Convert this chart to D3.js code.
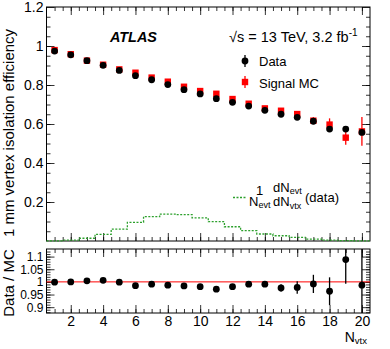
<!DOCTYPE html>
<html>
<head>
<meta charset="utf-8">
<script src="https://cdn.jsdelivr.net/npm/d3@7"></script>
<style>
  body { margin: 0; background: #fff; }
  svg { display: block; font-family: 'Liberation Sans', Arial, sans-serif; }
</style>
</head>
<body>
<div id="chart"></div>
<script>
// values
const nvtx = d3.range(1, 21);
const effData = [0.974, 0.955, 0.925, 0.901, 0.875, 0.848, 0.827, 0.802, 0.776, 0.754,
  0.730, 0.711, 0.692, 0.670, 0.650, 0.634, 0.614, 0.574, 0.574, 0.557];
const errData = [0.002, 0.002, 0.002, 0.002, 0.002, 0.002, 0.002, 0.002, 0.002, 0.002,
  0.002, 0.002, 0.003, 0.003, 0.004, 0.005, 0.006, 0.008, 0.010, 0.014];
const effMC = [0.979, 0.958, 0.925, 0.904, 0.880, 0.863, 0.838, 0.817, 0.791, 0.769,
  0.755, 0.728, 0.704, 0.680, 0.668, 0.651, 0.617, 0.597, 0.530, 0.562];
const errMC = [0.003, 0.003, 0.003, 0.003, 0.003, 0.003, 0.003, 0.003, 0.003, 0.003,
  0.004, 0.004, 0.005, 0.006, 0.008, 0.011, 0.018, 0.032, 0.036, 0.074];
const ratio = [0.999, 1.000, 1.004, 1.006, 0.999, 0.985, 0.991, 0.987, 0.984, 0.981,
  0.971, 0.981, 0.991, 0.991, 0.976, 0.978, 0.992, 0.963, 1.088, 0.987];
const errRatio = [0.003, 0.003, 0.003, 0.003, 0.003, 0.003, 0.004, 0.004, 0.004, 0.005,
  0.005, 0.006, 0.007, 0.009, 0.015, 0.025, 0.036, 0.055, 0.095, 0.15];
const nvtxFrac = [0.001, 0.004, 0.014, 0.034, 0.061, 0.096, 0.125, 0.138, 0.135, 0.119,
  0.099, 0.073, 0.053, 0.036, 0.027, 0.019, 0.010, 0.005, 0.002, 0.001];
const topTicks = [0.2, 0.4, 0.6, 0.8, 1, 1.2];
const ratioTicks = [0.9, 0.95, 1, 1.05, 1.1];
const xTicks = [2, 4, 6, 8, 10, 12, 14, 16, 18, 20];

const width = 390;
const height = 349;
const left = 46.5;
const right = 370;
const top1 = 7;
const bot1 = 241;
const top2 = 249;
const bot2 = 313;

const svg = d3.select('#chart').append('svg')
  .attr('width', width)
  .attr('height', height);

const x = d3.scaleLinear().domain([0.5, 20.5]).range([left, right]);
const y1 = d3.scaleLinear().domain([0, 1.2]).range([bot1, top1]);
const y2 = d3.scaleLinear().domain([0.877, 1.13]).range([bot2, top2]);

const fmt = d3.format('~g');
const xMinor = d3.range(1, 20.5, 0.5);

// draws inward ticks on all four sides of a panel
function frame(yScale, yMajor, yMinor, yFont, labelsX, yTop, yBot) {
  const g = svg.append('g');
  const axes = [
    [d3.axisLeft(yScale).tickValues(yMajor).tickSize(-8), left, 0, yFont],
    [d3.axisLeft(yScale).tickValues(yMinor).tickSize(-4), left, 0, 0],
    [d3.axisRight(yScale).tickValues(yMajor).tickSize(-8), right, 0, 0],
    [d3.axisRight(yScale).tickValues(yMinor).tickSize(-4), right, 0, 0],
    [d3.axisBottom(x).tickValues(xTicks).tickSize(-8), 0, yBot, labelsX ? 14 : 0],
    [d3.axisBottom(x).tickValues(xMinor).tickSize(-4), 0, yBot, 0],
    [d3.axisTop(x).tickValues(xTicks).tickSize(-8), 0, yTop, 0],
    [d3.axisTop(x).tickValues(xMinor).tickSize(-4), 0, yTop, 0],
  ];
  axes.forEach(([ax, tx, ty, font]) => {
    const a = g.append('g')
      .attr('transform', `translate(${tx},${ty})`)
      .call(ax.tickFormat(font ? fmt : () => '').tickPadding(3));
    a.select('.domain').remove();
    a.selectAll('line').attr('stroke', '#000').attr('stroke-width', 0.8);
    a.selectAll('text').attr('font-size', `${font}px`).attr('fill', '#000')
      .attr('font-family', "'Liberation Sans', Arial, sans-serif");
  });
  g.append('rect')
    .attr('x', left)
    .attr('y', yTop)
    .attr('width', right - left)
    .attr('height', yBot - yTop)
    .attr('fill', 'none')
    .attr('stroke', '#000')
    .attr('stroke-width', 1);
  return g;
}

// ---- top panel
frame(y1, topTicks, d3.range(0.05, 1.2, 0.05), 14, false, top1, bot1);

const histPts = nvtxFrac.map((v, i) => [i + 0.5, v]).concat([[20.5, nvtxFrac[19]]]);
const stepLine = d3.line()
  .x((d) => x(d[0]))
  .y((d) => y1(d[1]))
  .curve(d3.curveStepAfter);
svg.append('path')
  .attr('d', stepLine(histPts))
  .attr('fill', 'none')
  .attr('stroke', '#2ca02c')
  .attr('stroke-width', 1.3)
  .attr('stroke-dasharray', '2,1.5');

const mc = nvtx.map((n, i) => ({ n, v: effMC[i], e: errMC[i] }));
const dat = nvtx.map((n, i) => ({ n, v: effData[i], e: errData[i] }));

svg.selectAll('.mc-err')
  .data(mc)
  .enter()
  .append('line')
  .attr('x1', (d) => x(d.n))
  .attr('x2', (d) => x(d.n))
  .attr('y1', (d) => y1(d.v - d.e))
  .attr('y2', (d) => y1(d.v + d.e))
  .attr('stroke', '#f00')
  .attr('stroke-width', 1.3);
svg.selectAll('.mc-pt')
  .data(mc)
  .enter()
  .append('rect')
  .attr('x', (d) => x(d.n) - 3.2)
  .attr('y', (d) => y1(d.v) - 3.2)
  .attr('width', 6.4)
  .attr('height', 6.4)
  .attr('fill', '#f00');

svg.selectAll('.data-err')
  .data(dat)
  .enter()
  .append('line')
  .attr('x1', (d) => x(d.n))
  .attr('x2', (d) => x(d.n))
  .attr('y1', (d) => y1(d.v - d.e))
  .attr('y2', (d) => y1(d.v + d.e))
  .attr('stroke', '#000')
  .attr('stroke-width', 1.3);
svg.selectAll('.data-pt')
  .data(dat)
  .enter()
  .append('circle')
  .attr('cx', (d) => x(d.n))
  .attr('cy', (d) => y1(d.v))
  .attr('r', 3.4)
  .attr('fill', '#000');

// labels
svg.append('text')
  .attr('x', 110)
  .attr('y', 42)
  .attr('font-size', '14.4px')
  .attr('font-weight', 'bold')
  .attr('font-style', 'italic')
  .text('ATLAS');

const energy = svg.append('text')
  .attr('x', 229)
  .attr('y', 41.5)
  .attr('font-size', '14.5px');
energy.append('tspan').text('√s = 13 TeV, 3.2 fb');
energy.append('tspan').attr('font-size', '10px').attr('dy', -6).text('-1');

// legend
svg.append('line').attr('x1', 245).attr('x2', 245).attr('y1', 55).attr('y2', 67)
  .attr('stroke', '#000').attr('stroke-width', 1.3);
svg.append('circle').attr('cx', 245).attr('cy', 61).attr('r', 3.4).attr('fill', '#000');
svg.append('text').attr('x', 259).attr('y', 66).attr('font-size', '13px').text('Data');

svg.append('line').attr('x1', 245).attr('x2', 245).attr('y1', 76).attr('y2', 88)
  .attr('stroke', '#f00').attr('stroke-width', 1.3);
svg.append('rect').attr('x', 241.8).attr('y', 78.8).attr('width', 6.4).attr('height', 6.4)
  .attr('fill', '#f00');
svg.append('text').attr('x', 259).attr('y', 88).attr('font-size', '13px').text('Signal MC');

svg.append('line').attr('x1', 233).attr('x2', 247).attr('y1', 197.5).attr('y2', 197.5)
  .attr('stroke', '#2ca02c').attr('stroke-width', 1.3).attr('stroke-dasharray', '2,1.5');
svg.append('text').attr('x', 259.5).attr('y', 195).attr('font-size', '13px')
  .attr('text-anchor', 'middle').text('1');
const nevt = svg.append('text').attr('x', 249).attr('y', 206).attr('font-size', '13px');
nevt.append('tspan').text('N');
nevt.append('tspan').attr('font-size', '9px').attr('dy', 2).text('evt');
const dnevt = svg.append('text').attr('x', 273).attr('y', 191.5).attr('font-size', '13px');
dnevt.append('tspan').text('dN');
dnevt.append('tspan').attr('font-size', '9px').attr('dy', 2).text('evt');
const dnvtx = svg.append('text').attr('x', 273).attr('y', 206).attr('font-size', '13px');
dnvtx.append('tspan').text('dN');
dnvtx.append('tspan').attr('font-size', '9px').attr('dy', 3).text('vtx');
svg.append('text').attr('x', 305).attr('y', 201.5).attr('font-size', '13px').text('(data)');

svg.append('text')
  .attr('transform', `translate(14,133) rotate(-90)`)
  .attr('text-anchor', 'middle')
  .attr('font-size', '15px')
  .text('1 mm vertex isolation efficiency');

// ---- ratio panel
frame(y2, ratioTicks, d3.range(0.88, 1.13, 0.01), 12, true, top2, bot2);

svg.append('line')
  .attr('x1', left).attr('x2', right)
  .attr('y1', y2(1)).attr('y2', y2(1))
  .attr('stroke', '#f00').attr('stroke-width', 1);

const rat = nvtx.map((n, i) => ({ n, v: ratio[i], e: errRatio[i] }));
const clip = (v) => Math.max(y2.domain()[0], Math.min(y2.domain()[1], v));
svg.selectAll('.ratio-err')
  .data(rat)
  .enter()
  .append('line')
  .attr('x1', (d) => x(d.n))
  .attr('x2', (d) => x(d.n))
  .attr('y1', (d) => y2(clip(d.v - d.e)))
  .attr('y2', (d) => y2(clip(d.v + d.e)))
  .attr('stroke', '#000')
  .attr('stroke-width', 1.3);
svg.selectAll('.ratio-pt')
  .data(rat)
  .enter()
  .append('circle')
  .attr('cx', (d) => x(d.n))
  .attr('cy', (d) => y2(d.v))
  .attr('r', 3.4)
  .attr('fill', '#000');

svg.append('text')
  .attr('transform', `translate(14,283) rotate(-90)`)
  .attr('text-anchor', 'middle')
  .attr('font-size', '15px')
  .text('Data / MC');

const ntitle = svg.append('text').attr('x', 367).attr('y', 342)
  .attr('text-anchor', 'end').attr('font-size', '14px');
ntitle.append('tspan').text('N');
ntitle.append('tspan').attr('font-size', '9.5px').attr('dy', 2).text('vtx');
</script>
</body>
</html>
